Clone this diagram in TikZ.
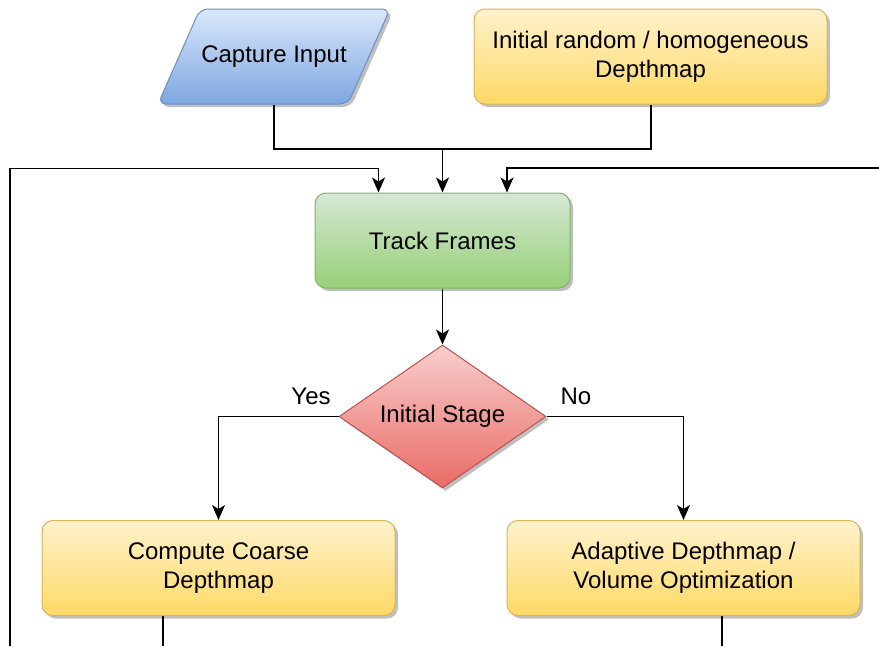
\documentclass[tikz,border=0pt]{standalone}
\usepackage{fontspec}
\setmainfont{Liberation Sans}
\usetikzlibrary{shapes.geometric,shadows,arrows.meta,calc}
\definecolor{blueTop}{HTML}{DAE8FC}\definecolor{blueBot}{HTML}{7EA6E0}\definecolor{blueLine}{HTML}{6C8EBF}
\definecolor{yelTop}{HTML}{FFF2CC}\definecolor{yelBot}{HTML}{FFD966}\definecolor{yelLine}{HTML}{D6B656}
\definecolor{grnTop}{HTML}{D5E8D4}\definecolor{grnBot}{HTML}{97D077}\definecolor{grnLine}{HTML}{82B366}
\definecolor{redTop}{HTML}{F8CECC}\definecolor{redBot}{HTML}{EA6B66}\definecolor{redLine}{HTML}{B85450}
\tikzset{
  shade/.style={line width=1pt,
    drop shadow={shadow xshift=3pt, shadow yshift=-3pt, fill=black, opacity=0.25}},
  txt/.style={align=center, font=\fontsize{24}{29}\selectfont},
  base/.style={shade, txt},
  box/.style={base, rectangle, rounded corners=11pt, minimum height=95pt, inner sep=0pt},
  yelbox/.style={box, draw=yelLine, top color=yelTop, bottom color=yelBot},
  grnbox/.style={box, draw=grnLine, top color=grnTop, bottom color=grnBot},
  iofill/.style={shade, rounded corners=8pt, draw=blueLine, top color=blueTop, bottom color=blueBot},
  decbox/.style={base, diamond, aspect=1.45, minimum width=207pt, minimum height=143pt,
    inner sep=0pt, draw=redLine, top color=redTop, bottom color=redBot},
  conn/.style={line width=1.4pt, black},
  arr/.style={conn, -{Stealth[length=15pt,width=13pt,inset=4pt]}},
  lbl/.style={font=\fontsize{24}{28}\selectfont}
}
\begin{document}
\begin{tikzpicture}[x=1pt,y=-1pt]
\useasboundingbox (0,0) rectangle (879,646);
\path[iofill] (158,104) -- (200,9) -- (390,9) -- (348,104) -- cycle;
\node[txt, minimum width=190pt, minimum height=95pt, inner sep=0pt] (cap) at (274,57) {Capture Input};
\node[yelbox, minimum width=353pt] (init) at (650.5,56.5) {Initial random / homogeneous\\Depthmap};
\node[grnbox, minimum width=255pt, minimum height=95pt] (track) at (442.5,240.5) {Track Frames};
\node[decbox] (dec) at (442.5,416.5) {Initial Stage};
\node[yelbox, minimum width=353pt] (coarse) at (218.5,568) {Compute Coarse\\Depthmap};
\node[yelbox, minimum width=353pt] (adapt) at (683.5,568) {Adaptive Depthmap /\\Volume Optimization};
\coordinate (merge) at (442.5,149);
\coordinate (fbL) at (10,646);
\coordinate (fbR) at (879,168);
\coordinate (outL) at (163,646);
\coordinate (outR) at (722,646);
\draw[conn] (cap.south) |- (merge) -| ($(init.south)+(0.5,0)$);
\draw[arr] (merge) -- (track.north);
\draw[arr] (fbL) |- ($(track.north)+(-64,-24)$) -- ($(track.north)+(-64,0)$);
\draw[arr] (fbR) -| ($(track.north)+(64.5,0)$);
\draw[arr] (track.south) -- (dec.north);
\draw[arr] (dec.west) -| (coarse.north);
\draw[arr] (dec.east) -| (adapt.north);
\draw[conn] (coarse.south -| outL) -- (outL);
\draw[conn] (adapt.south -| outR) -- (outR);
\node[lbl] (yes) at (311,396) {Yes};
\node[lbl] (no) at (576,396) {No};
\end{tikzpicture}
\end{document}
